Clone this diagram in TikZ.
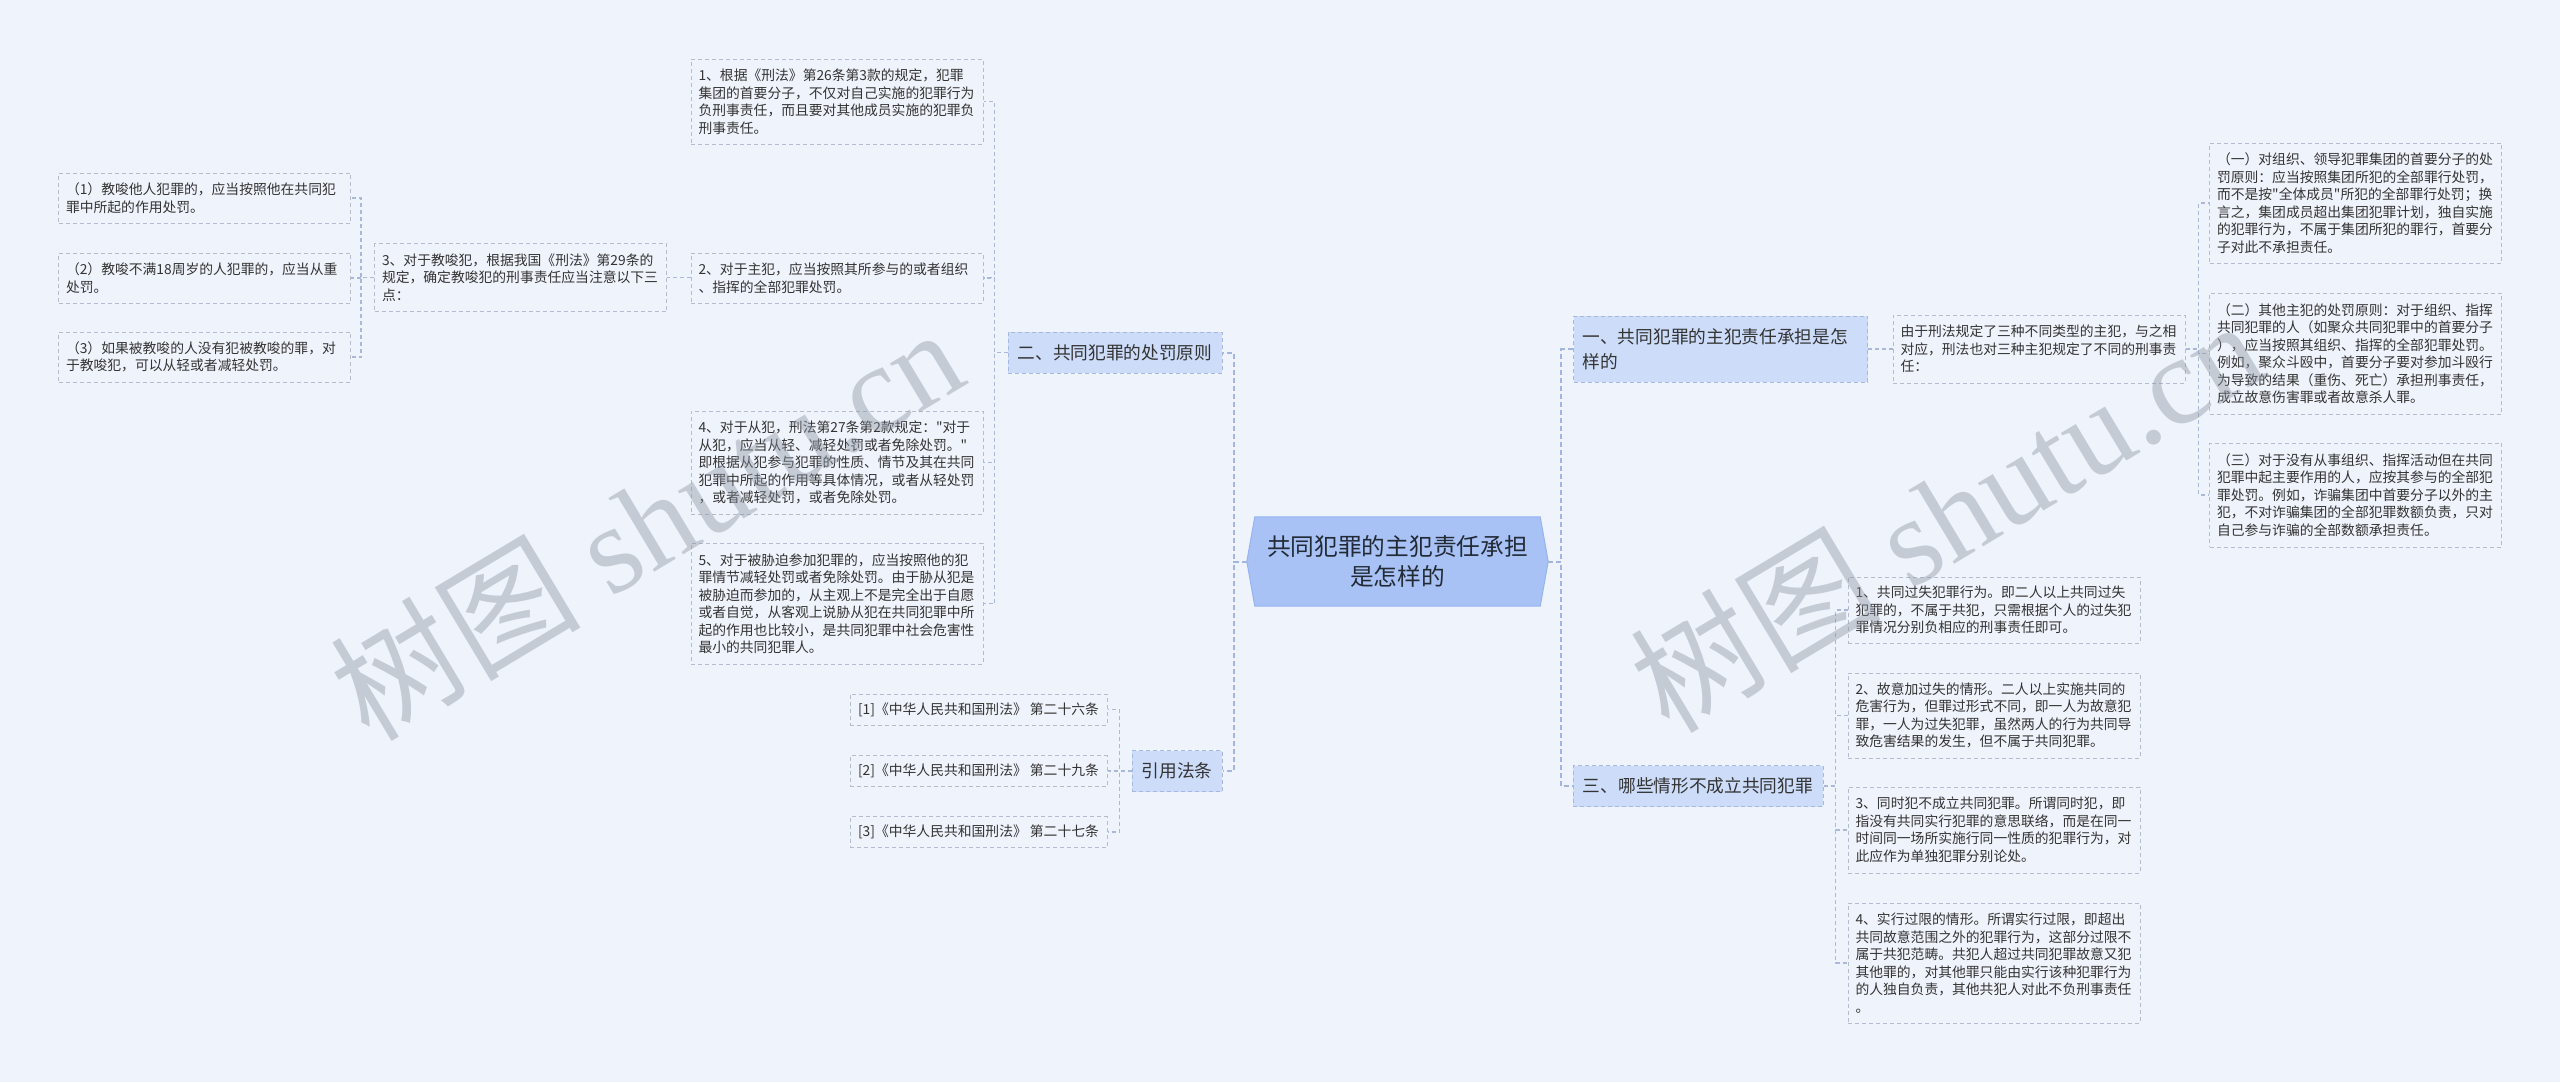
\documentclass[tikz,border=0pt]{standalone}
\usepackage{fontspec}
\setmainfont{Liberation Serif}
\newfontfamily\cjk{Noto Sans CJK SC}
\newfontfamily\wmserif{Liberation Serif}
\usetikzlibrary{calc}
\definecolor{bgc}{HTML}{EFF3FB}
\definecolor{leafc}{HTML}{B4BCCD}
\definecolor{lvlc}{HTML}{CCDCF9}
\definecolor{lvlb}{HTML}{A7B8DE}
\definecolor{ctrfill}{HTML}{A8C2F5}
\definecolor{ctrb}{HTML}{97B4F0}
\definecolor{connc}{HTML}{A9B8DB}
\definecolor{trunkc}{HTML}{A3B6E2}
\definecolor{txt}{HTML}{333333}
\definecolor{ctxt}{HTML}{222A35}
\definecolor{wmc}{HTML}{8C94A2}
\tikzset{
  leaf/.style={draw=leafc, dash pattern=on 4pt off 3pt, line width=1pt, fill=bgc, text=txt,
    font=\cjk\fontsize{13.8}{17.5}\selectfont, text width=277pt, inner xsep=7.5pt, inner ysep=0pt, align=left},
  lawleaf/.style={draw=leafc, dash pattern=on 4pt off 3pt, line width=1pt, fill=bgc, text=txt,
    font=\cjk\fontsize{13.8}{17.5}\selectfont, inner xsep=8pt, inner ysep=0pt, minimum width=257pt, minimum height=31pt},
  lvl/.style={draw=lvlb, dash pattern=on 4pt off 3pt, line width=1pt, fill=lvlc, text=txt,
    font=\cjk\fontsize{17.7}{25}\selectfont, inner xsep=9pt, inner ysep=0pt, minimum height=41pt},
  conn/.style={draw=connc, line width=1.2pt, dash pattern=on 4pt off 3pt},
  trunk/.style={draw=trunkc, line width=2pt, dash pattern=on 5pt off 3pt},
  wm/.style={text=wmc, text opacity=0.42, font=\wmserif\fontsize{125}{125}\selectfont, inner sep=0pt},
}
\begin{document}
\begin{tikzpicture}[x=1pt,y=-1pt]
\useasboundingbox (0,0) rectangle (2560,1082);
\fill[bgc] (0,0) rectangle (2560,1082);

% centre
\node[minimum width=301pt, minimum height=89pt, inner sep=0pt] (c) at (1397.5,561.5) {};
\filldraw[fill=ctrfill, draw=ctrb, line width=1pt]
  ($(c.north west)+(8,0)$) -- ($(c.north east)+(-8,0)$) -- (c.east) --
  ($(c.south east)+(-8,0)$) -- ($(c.south west)+(8,0)$) -- (c.west) -- cycle;
\node[text=ctxt, font=\cjk\fontsize{23.7}{30}\selectfont, align=center] (ct) at (c) {共同犯罪的主犯责任承担\\是怎样的};

% level 1
\node[lvl, minimum width=214pt] (n2) at (1115,352.5) {二、共同犯罪的处罚原则};
\node[lvl, minimum width=90pt] (n4) at (1177,771) {引用法条};
\node[lvl, text width=276pt, align=left, minimum height=66pt] (n1) at (1720.5,349) {一、共同犯罪的主犯责任承担是怎\\样的};
\node[lvl, minimum width=250pt] (n3) at (1698,786) {三、哪些情形不成立共同犯罪};

% left leaves
\node[leaf, minimum height=85pt] (L1) at (837,101.5) {1、根据《刑法》第26条第3款的规定，犯罪\\集团的首要分子，不仅对自己实施的犯罪行为\\负刑事责任，而且要对其他成员实施的犯罪负\\刑事责任。};
\node[leaf, minimum height=68pt] (L3) at (520.5,277.5) {3、对于教唆犯，根据我国《刑法》第29条的\\规定，确定教唆犯的刑事责任应当注意以下三\\点：};
\node[leaf, minimum height=50pt] (S1) at (204.5,198) {（1）教唆他人犯罪的，应当按照他在共同犯\\罪中所起的作用处罚。};
\node[leaf, minimum height=50pt] (S2) at (204.5,278) {（2）教唆不满18周岁的人犯罪的，应当从重\\处罚。};
\node[leaf, minimum height=50pt] (S3) at (204.5,357) {（3）如果被教唆的人没有犯被教唆的罪，对\\于教唆犯，可以从轻或者减轻处罚。};
\node[leaf, minimum height=103pt] (L4) at (837,462.5) {4、对于从犯，刑法第27条第2款规定："对于\\从犯，应当从轻、减轻处罚或者免除处罚。"\\即根据从犯参与犯罪的性质、情节及其在共同\\犯罪中所起的作用等具体情况，或者从轻处罚\\，或者减轻处罚，或者免除处罚。};
\node[leaf, minimum height=121pt] (L5) at (837,603.5) {5、对于被胁迫参加犯罪的，应当按照他的犯\\罪情节减轻处罚或者免除处罚。由于胁从犯是\\被胁迫而参加的，从主观上不是完全出于自愿\\或者自觉，从客观上说胁从犯在共同犯罪中所\\起的作用也比较小，是共同犯罪中社会危害性\\最小的共同犯罪人。};
\node[lawleaf] (F1) at (978.5,709.5) {[1]《中华人民共和国刑法》 第二十六条};
\node[lawleaf] (F2) at (978.5,771) {[2]《中华人民共和国刑法》 第二十九条};
\node[lawleaf] (F3) at (978.5,832) {[3]《中华人民共和国刑法》 第二十七条};

% right leaves
\node[leaf, minimum height=68pt] (Y) at (2039,349) {由于刑法规定了三种不同类型的主犯，与之相\\对应，刑法也对三种主犯规定了不同的刑事责\\任：};
\node[leaf, minimum height=120pt] (R1) at (2355.5,203) {（一）对组织、领导犯罪集团的首要分子的处\\罚原则：应当按照集团所犯的全部罪行处罚，\\而不是按"全体成员"所犯的全部罪行处罚；换\\言之，集团成员超出集团犯罪计划，独自实施\\的犯罪行为，不属于集团所犯的罪行，首要分\\子对此不承担责任。};
\node[leaf, minimum height=121pt] (R2) at (2355.5,353.5) {（二）其他主犯的处罚原则：对于组织、指挥\\共同犯罪的人（如聚众共同犯罪中的首要分子\\），应当按照其组织、指挥的全部犯罪处罚。\\例如，聚众斗殴中，首要分子要对参加斗殴行\\为导致的结果（重伤、死亡）承担刑事责任，\\成立故意伤害罪或者故意杀人罪。};
\node[leaf, minimum height=104pt] (R3) at (2355.5,495) {（三）对于没有从事组织、指挥活动但在共同\\犯罪中起主要作用的人，应按其参与的全部犯\\罪处罚。例如，诈骗集团中首要分子以外的主\\犯，不对诈骗集团的全部犯罪数额负责，只对\\自己参与诈骗的全部数额承担责任。};
\node[leaf, minimum height=66pt] (B1) at (1994,610) {1、共同过失犯罪行为。即二人以上共同过失\\犯罪的，不属于共犯，只需根据个人的过失犯\\罪情况分别负相应的刑事责任即可。};
\node[leaf, minimum height=85pt] (B2) at (1994,715.5) {2、故意加过失的情形。二人以上实施共同的\\危害行为，但罪过形式不同，即一人为故意犯\\罪，一人为过失犯罪，虽然两人的行为共同导\\致危害结果的发生，但不属于共同犯罪。};
\node[leaf, minimum height=86pt] (B3) at (1994,830) {3、同时犯不成立共同犯罪。所谓同时犯，即\\指没有共同实行犯罪的意思联络，而是在同一\\时间同一场所实施行同一性质的犯罪行为，对\\此应作为单独犯罪分别论处。};
\node[leaf, minimum height=120pt] (B4) at (1994,963) {4、实行过限的情形。所谓实行过限，即超出\\共同故意范围之外的犯罪行为，这部分过限不\\属于共犯范畴。共犯人超过共同犯罪故意又犯\\其他罪的，对其他罪只能由实行该种犯罪行为\\的人独自负责，其他共犯人对此不负刑事责任\\。};

% connectors
\draw[trunk] (c.west) -- ++(-13,0) |- (n2.east);
\draw[trunk] (c.west) -- ++(-13,0) |- (n4.east);
\draw[trunk] (c.east) -- ++(13,0) |- (n1.west);
\draw[trunk] (c.east) -- ++(13,0) |- (n3.west);
\foreach \t in {L1,L3,L4,L5} \draw[conn] (n2.west) -- ++(-13,0) |- (\t.east);
\foreach \t in {S1,S2,S3} \draw[conn] (L3.west) -- ++(-13,0) |- (\t.east);
\foreach \t in {F1,F2,F3} \draw[conn] (n4.west) -- ++(-12,0) |- (\t.east);
\draw[conn] (n1.east) -- (Y.west);
\foreach \t in {R1,R2,R3} \draw[conn] (Y.east) -- ++(13,0) |- (\t.west);
\foreach \t in {B1,B2,B3,B4} \draw[conn] (n3.east) -- ++(12,0) |- (\t.west);
% L2 on top of the line from L3
\node[leaf, minimum height=50pt] (L2) at (837,278) {2、对于主犯，应当按照其所参与的或者组织\\、指挥的全部犯罪处罚。};
\draw[conn] (n2.west) -- ++(-13,0) |- (L2.east);

% watermarks
\node[wm, rotate=31] (w1) at (646,522) {{\cjk 树图} shutu.cn};
\node[wm, rotate=31] (w2) at (1946,514) {{\cjk 树图} shutu.cn};
\end{tikzpicture}
\end{document}
